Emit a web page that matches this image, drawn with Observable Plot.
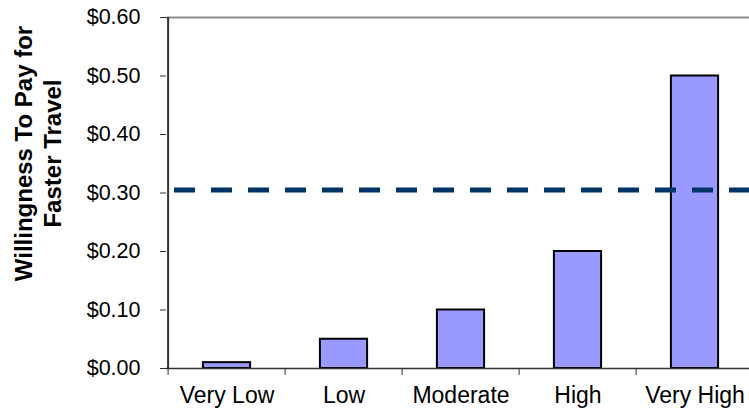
<!DOCTYPE html>
<html>
<head>
<meta charset="utf-8">
<script src="https://cdn.jsdelivr.net/npm/d3@7"></script>
<script src="https://cdn.jsdelivr.net/npm/@observablehq/plot@0.6"></script>
<style>
  html, body { margin: 0; padding: 0; background: #fff; overflow: hidden; }
  svg { display: block; }
</style>
</head>
<body>
<div id="chart"></div>
<script>
const categories = ["Very Low", "Low", "Moderate", "High", "Very High"];
const values = [0.01, 0.05, 0.10, 0.20, 0.50];
const referenceValue = 0.305;
const yTicks = [0, 0.1, 0.2, 0.3, 0.4, 0.5, 0.6];
const yLabel = ["Willingness To Pay for", "Faster Travel"];

const data = categories.map((c, i) => ({cat: c, value: values[i]}));

const W = 749, H = 408;
const xRange = [166, 755];
const yRange = [368, 17];
const yDomain = [0, 0.6];
const step = (xRange[1] - xRange[0]) / categories.length;
const barW = 48;
const inset = (step - barW) / 2;
const unitsPerPx = (yDomain[1] - yDomain[0]) / (yRange[0] - yRange[1]);
const tickLen = 7;

const chart = Plot.plot({
  width: W,
  height: H,
  marginLeft: 166,
  marginRight: 0,
  marginTop: 17,
  marginBottom: 40,
  style: {fontFamily: "'Liberation Sans', Arial, sans-serif", fontSize: "21px", color: "#000", background: "#fff"},
  x: {domain: categories, range: xRange, padding: 0},
  y: {domain: yDomain, range: yRange},
  marks: [
    Plot.ruleY([0.6], {stroke: "#8c8c8c", strokeWidth: 2}),
    Plot.barY(data, {x: "cat", y: "value", fill: "#9999ff", stroke: "#000", strokeWidth: 2, insetLeft: inset, insetRight: inset}),
    Plot.ruleY([referenceValue], {stroke: "#003366", strokeWidth: 5, strokeDasharray: "21,16", insetLeft: 8}),
    Plot.ruleY([0], {stroke: "#333", strokeWidth: 1.5}),
    Plot.ruleX(categories, {x: d => d, dx: -step / 2, y1: 0, y2: -tickLen * unitsPerPx, stroke: "#333", strokeWidth: 1}),
    Plot.axisY({ticks: yTicks, tickFormat: d => "$" + d.toFixed(2), tickSize: 6, tickPadding: 20, label: null, fontSize: 21.5, stroke: "#333"}),
    Plot.ruleX([categories[0]], {dx: -step / 2, stroke: "#333", strokeWidth: 2}),
    Plot.axisX({tickSize: 0, tickPadding: 18, label: null, fontSize: 23}),
    Plot.text([yLabel.join("\n")], {frameAnchor: "left", rotate: -90, dx: -129, dy: -39.5, fontWeight: "bold", fontSize: 24, lineHeight: 1.2, textAnchor: "middle", lineAnchor: "middle", fill: "#000"})
  ]
});
document.getElementById("chart").appendChild(chart);
</script>
</body>
</html>
